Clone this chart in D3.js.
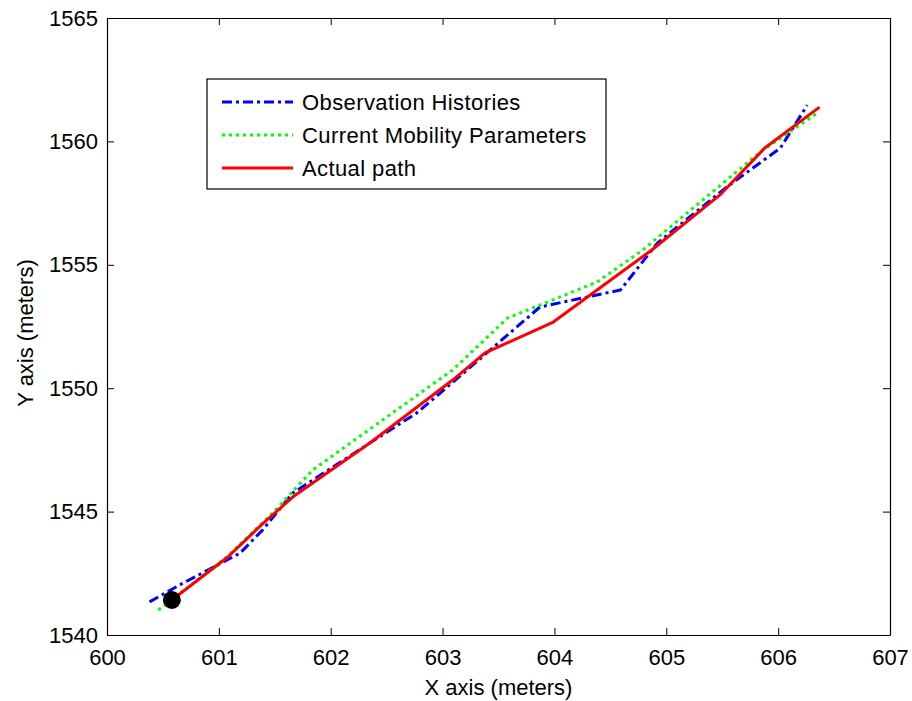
<!DOCTYPE html>
<meta charset="utf-8">
<style>
  body { margin: 0; background: #fff; }
  text { font-family: "Liberation Sans", Arial, sans-serif; fill: #000; }
  .line { fill: none; stroke-width: 3; stroke-linejoin: round; }
</style>
<svg width="912" height="701"></svg>
<script src="https://d3js.org/d3.v7.min.js"></script>
<script>
  // data (meters)
  var obsX = [600.38, 600.65, 601.19, 601.39, 601.66, 602.35, 602.77, 603.22, 603.87, 604.59, 604.92, 605.54, 606.02, 606.26];
  var obsY = [1541.34, 1542.03, 1543.32, 1544.25, 1545.75, 1547.78, 1549.0, 1550.74, 1553.29, 1553.98, 1555.88, 1558.15, 1559.73, 1561.47];

  var mobX = [600.46, 601.07, 601.48, 601.84, 603.09, 603.58, 604.38, 604.79, 605.84, 606.35];
  var mobY = [1541.01, 1543.16, 1544.94, 1546.69, 1550.74, 1552.84, 1554.30, 1555.60, 1559.57, 1561.15];

  var actX = [600.58, 601.08, 601.39, 601.66, 602.35, 603.09, 603.38, 603.99, 604.87, 605.48, 605.88, 606.37];
  var actY = [1541.42, 1543.16, 1544.50, 1545.59, 1547.78, 1550.33, 1551.43, 1552.68, 1555.60, 1557.83, 1559.73, 1561.39];

  var startPt = [600.58, 1541.42];

  var xTicks = [600, 601, 602, 603, 604, 605, 606, 607];
  var yTicks = [1540, 1545, 1550, 1555, 1560, 1565];

  var series = [
    { name: "Observation Histories", xs: obsX, ys: obsY, color: "#0000ff", dash: "10,4,3,4" },
    { name: "Current Mobility Parameters", xs: mobX, ys: mobY, color: "#00ff00", dash: "3,4" },
    { name: "Actual path", xs: actX, ys: actY, color: "#ff0000", dash: null }
  ];

  var svg = d3.select("svg");
  var mLeft = 107, mRight = 890, mTop = 18, mBottom = 635;
  var fs = 22;

  var x = d3.scaleLinear().domain([600, 607]).range([mLeft, mRight]);
  var y = d3.scaleLinear().domain([1540, 1565]).range([mBottom, mTop]);

  var g = svg.append("g");

  // inward ticks on all four sides
  g.append("g").attr("transform", "translate(0," + mBottom + ")")
    .call(d3.axisBottom(x).tickValues(xTicks).tickSizeInner(-7).tickSizeOuter(0).tickPadding(14).tickFormat(d3.format("d")));
  g.append("g").attr("transform", "translate(0," + mTop + ")")
    .call(d3.axisTop(x).tickValues(xTicks).tickSizeInner(-7).tickSizeOuter(0).tickFormat(""));
  g.append("g").attr("transform", "translate(" + mLeft + ",0)")
    .call(d3.axisLeft(y).tickValues(yTicks).tickSizeInner(-7).tickSizeOuter(0).tickPadding(9).tickFormat(d3.format("d")));
  g.append("g").attr("transform", "translate(" + mRight + ",0)")
    .call(d3.axisRight(y).tickValues(yTicks).tickSizeInner(-7).tickSizeOuter(0).tickFormat(""));

  g.selectAll(".domain").attr("stroke", "#000").attr("stroke-width", 1.2);
  g.selectAll(".tick line").attr("stroke", "#000");
  g.selectAll(".tick text").attr("font-size", fs)
    .attr("font-family", "Liberation Sans, Arial, sans-serif").attr("fill", "#000");

  // lines
  var line = d3.line().x(d => x(d[0])).y(d => y(d[1]));
  series.forEach(function (s) {
    var pts = s.xs.map((v, i) => [v, s.ys[i]]);
    svg.append("path")
      .datum(pts)
      .attr("class", "line")
      .attr("stroke", s.color)
      .attr("stroke-dasharray", s.dash)
      .attr("d", line);
  });

  // start marker
  svg.append("circle")
    .attr("cx", x(startPt[0]))
    .attr("cy", y(startPt[1]))
    .attr("r", 9)
    .attr("fill", "#000");

  // legend
  var lg = svg.append("g").attr("transform", "translate(207,79)");
  lg.append("rect")
    .attr("width", 399).attr("height", 110)
    .attr("fill", "#fff").attr("stroke", "#000").attr("stroke-width", 1.2);
  series.forEach(function (s, i) {
    var ly = 23 + i * 33;
    lg.append("line")
      .attr("x1", 15).attr("x2", 86).attr("y1", ly).attr("y2", ly)
      .attr("stroke", s.color).attr("stroke-width", 3)
      .attr("stroke-dasharray", s.dash);
    lg.append("text")
      .attr("x", 95).attr("y", ly).attr("dy", "0.35em")
      .attr("font-size", fs)
      .attr("letter-spacing", 0.4)
      .text(s.name);
  });

  // axis labels
  svg.append("text")
    .attr("x", (mLeft + mRight) / 2).attr("y", 695)
    .attr("text-anchor", "middle").attr("font-size", fs)
    .text("X axis (meters)");
  svg.append("text")
    .attr("transform", "translate(33,333) rotate(-90)")
    .attr("text-anchor", "middle").attr("font-size", fs)
    .text("Y axis (meters)");
</script>
